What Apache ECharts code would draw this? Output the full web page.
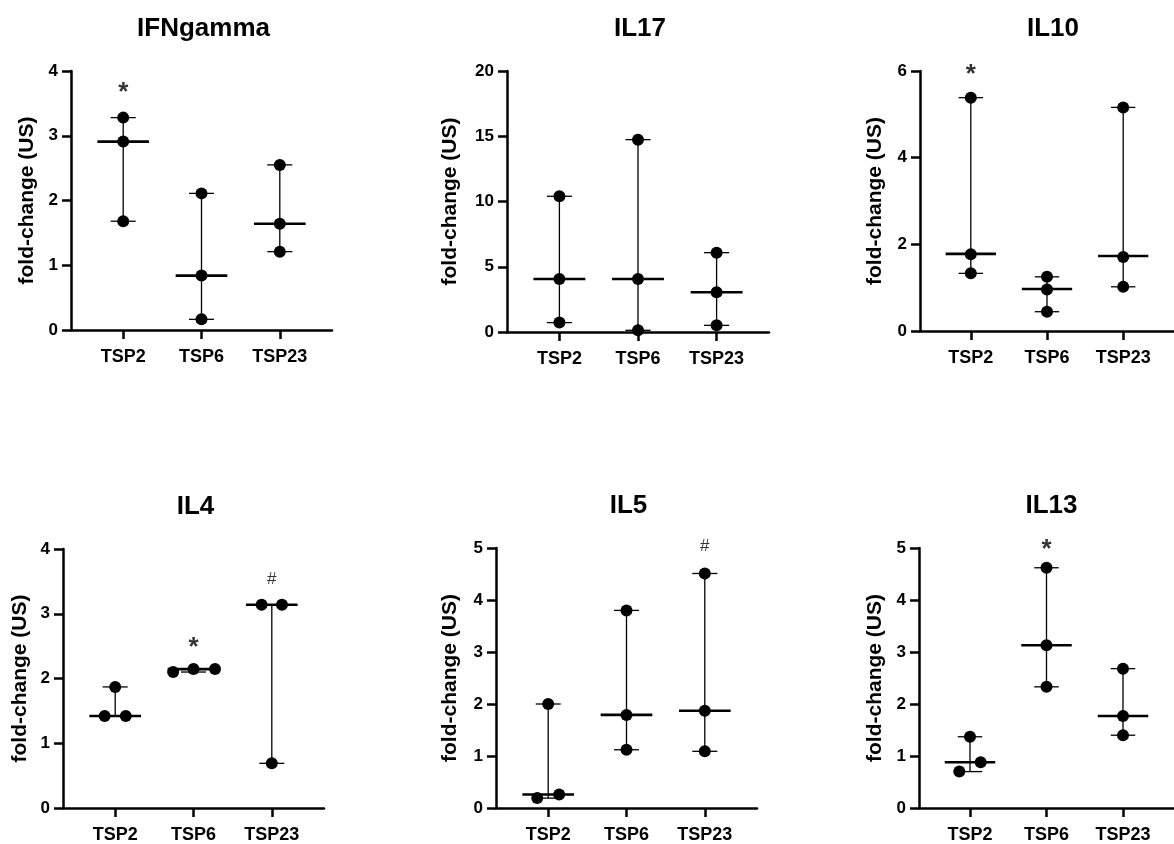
<!DOCTYPE html>
<html>
<head>
<meta charset="utf-8">
<script src="https://cdn.jsdelivr.net/npm/echarts@6/dist/echarts.min.js"></script>
<style>
  html, body { margin: 0; padding: 0; background: #fff; }
  #chart { width: 1174px; height: 844px; }
</style>
</head>
<body>
<div id="chart"></div>
<script>
const categories = ['TSP2', 'TSP6', 'TSP23']
const panelTitles = ['IFNgamma', 'IL17', 'IL10', 'IL4', 'IL5', 'IL13']

// three replicate values per group, TSP2 / TSP6 / TSP23
const ifnGamma = [[3.28, 2.91, 1.68], [2.11, 0.84, 0.165], [2.55, 1.64, 1.21]]
const il17 = [[10.4, 4.06, 0.72], [14.74, 4.06, 0.13], [6.08, 3.04, 0.51]]
const il10 = [[5.385, 1.77, 1.33], [1.25, 0.96, 0.445], [5.16, 1.71, 1.02]]
const il4 = [[1.87, 1.42, 1.42], [2.10, 2.145, 2.145], [3.14, 3.14, 0.69]]
const il5 = [[2.0, 0.19, 0.26], [3.80, 1.79, 1.12], [4.51, 1.87, 1.09]]
const il13 = [[1.37, 0.70, 0.88], [4.62, 3.13, 2.33], [2.68, 1.77, 1.40]]

// horizontal spread of overlapping dots (in category units)
const noJitter = [[0, 0, 0], [0, 0, 0], [0, 0, 0]]
const il4Jitter = [[0, -0.135, 0.135], [-0.26, 0, 0.275], [-0.13, 0.13, 0]]
const il5Jitter = [[0, -0.14, 0.14], [0, 0, 0], [0, 0, 0]]
const il13Jitter = [[0, -0.14, 0.14], [0, 0, 0], [0, 0, 0]]

const medians = [
  [2.91, 0.84, 1.64],
  [4.06, 4.06, 3.05],
  [1.78, 0.97, 1.73],
  [1.42, 2.145, 3.14],
  [0.26, 1.79, 1.87],
  [0.88, 3.13, 1.77],
]

const yMax = [4, 20, 6, 4, 5, 5]
const yInterval = [1, 5, 2, 1, 1, 1]

// significance marks
const markPanel = [0, 2, 3, 3, 4, 5]
const markCategory = [0, 0, 1, 2, 2, 1]
const markText = ['*', '*', '*', '#', '#', '*']
const markValue = [3.76, 6.04, 2.57, 3.53, 5.03, 5.08]

const panelValues = [ifnGamma, il17, il10, il4, il5, il13]
const panelJitter = [noJitter, noJitter, noJitter, il4Jitter, il5Jitter, il13Jitter]

const grids = [
  { left: 71, top: 71, width: 261, height: 259 },
  { left: 507, top: 71, width: 262, height: 261 },
  { left: 920, top: 71, width: 262, height: 260 },
  { left: 63, top: 549, width: 261, height: 259 },
  { left: 496, top: 548, width: 261, height: 261 },
  { left: 919, top: 548, width: 261, height: 261 },
]
const nameGaps = [33, 46, 34, 32, 35, 33]

const FONT = '"Liberation Sans", Arial, sans-serif'
const chart = echarts.init(document.getElementById('chart'), null, { renderer: 'canvas' })

const renderRange = (params, api) => {
  const x = api.value(0)
  const lo = api.coord([x, api.value(1)])
  const hi = api.coord([x, api.value(2)])
  const med = api.coord([x, api.value(3)])
  const capW = api.coord([x + 0.16, 0])[0] - lo[0]
  const medW = api.coord([x + 0.33, 0])[0] - lo[0]
  const thin = { stroke: '#000', lineWidth: 1.3 }
  return {
    type: 'group',
    children: [
      { type: 'line', shape: { x1: lo[0], y1: lo[1], x2: hi[0], y2: hi[1] }, style: thin },
      { type: 'line', shape: { x1: lo[0] - capW, y1: lo[1], x2: lo[0] + capW, y2: lo[1] }, style: thin },
      { type: 'line', shape: { x1: hi[0] - capW, y1: hi[1], x2: hi[0] + capW, y2: hi[1] }, style: thin },
      { type: 'line', shape: { x1: med[0] - medW, y1: med[1], x2: med[0] + medW, y2: med[1] },
        style: { stroke: '#000', lineWidth: 2.6 } },
    ],
  }
}

const title = []
const xAxis = []
const yAxis = []
const series = []

grids.forEach((g, i) => {
  title.push({
    text: panelTitles[i],
    left: g.left + g.width / 2 - 3,
    textAlign: 'center',
    top: g.top - 60,
    textStyle: { fontFamily: FONT, fontWeight: 'bold', fontSize: 26, color: '#000' },
  })
  xAxis.push({
    type: 'value',
    gridIndex: i,
    min: 1 / 3,
    max: 11 / 3,
    axisLine: { lineStyle: { color: '#000', width: 2.5 } },
    axisTick: { customValues: [1, 2, 3], length: 9, lineStyle: { color: '#000', width: 2.5 } },
    axisLabel: {
      customValues: [1, 2, 3],
      formatter: (v) => categories[Math.round(v) - 1],
      margin: 18,
      fontFamily: FONT, fontWeight: 'bold', fontSize: 18, color: '#000',
    },
    splitLine: { show: false },
  })
  yAxis.push({
    type: 'value',
    gridIndex: i,
    min: 0,
    max: yMax[i],
    interval: yInterval[i],
    name: 'fold-change (US)',
    nameLocation: 'middle',
    nameRotate: 90,
    nameGap: nameGaps[i],
    nameTextStyle: { fontFamily: FONT, fontWeight: 'bold', fontSize: 21, color: '#000' },
    axisLine: { show: true, lineStyle: { color: '#000', width: 2.5 } },
    axisTick: { show: true, inside: false, length: 9, lineStyle: { color: '#000', width: 2.5 } },
    axisLabel: { margin: 13, fontFamily: FONT, fontWeight: 'bold', fontSize: 17, color: '#000' },
    splitLine: { show: false },
  })

  const vals = panelValues[i]
  const rangeData = vals.map((grp, c) => [c + 1, Math.min(...grp), Math.max(...grp), medians[i][c]])
  series.push({
    type: 'custom',
    xAxisIndex: i,
    yAxisIndex: i,
    renderItem: renderRange,
    data: rangeData,
    clip: false,
    z: 2,
  })

  const dots = []
  vals.forEach((grp, c) => grp.forEach((v, k) => dots.push([c + 1 + panelJitter[i][c][k], v])))
  series.push({
    type: 'scatter',
    xAxisIndex: i,
    yAxisIndex: i,
    data: dots,
    symbolSize: 12,
    itemStyle: { color: '#000', opacity: 1 },
    clip: false,
    z: 3,
  })

  const marks = []
  markPanel.forEach((p, m) => {
    if (p === i) marks.push({ value: [markCategory[m] + 1, markValue[m]], text: markText[m] })
  })
  if (marks.length) {
    series.push({
      type: 'scatter',
      xAxisIndex: i,
      yAxisIndex: i,
      symbolSize: 1,
      itemStyle: { color: 'rgba(0,0,0,0)' },
      clip: false,
      silent: true,
      data: marks.map((d) => ({
        value: d.value,
        label: {
          show: true,
          position: 'inside',
          formatter: d.text,
          color: '#000',
          fontFamily: FONT,
          fontWeight: d.text === '*' ? 'bold' : 'normal',
          fontSize: d.text === '*' ? 26 : 17,
          offset: d.text === '*' ? [0, 6] : [0, 0],
        },
      })),
    })
  }
})

chart.setOption({
  animation: false,
  backgroundColor: '#fff',
  title,
  grid: grids.map((g) => ({ ...g, containLabel: false })),
  xAxis,
  yAxis,
  series,
})
window.addEventListener('resize', () => chart.resize())
</script>
</body>
</html>
